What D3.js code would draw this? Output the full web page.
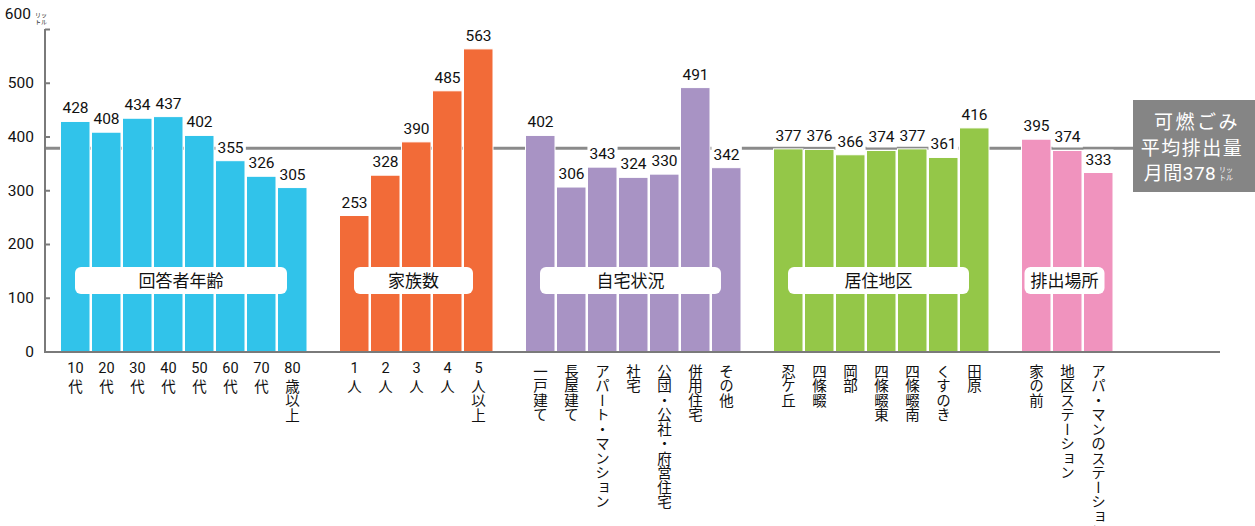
<!DOCTYPE html>
<html><head><meta charset="utf-8">
<script src="https://cdn.jsdelivr.net/npm/d3@7"></script>
<style>
html,body{margin:0;padding:0;background:#fff;}
svg{display:block;}
.num{font-family:Roboto,"Liberation Sans",Arial,sans-serif;}
.jp{font-family:"Noto Sans CJK JP","Noto Sans",sans-serif;}
</style></head>
<body>
<svg id="c" width="1255" height="526"></svg>
<script>
// ---- data ----
const groupNames = ["回答者年齢","家族数","自宅状況","居住地区","排出場所"];
const ageCats = ["10代","20代","30代","40代","50代","60代","70代","80歳以上"];
const ageVals = [428,408,434,437,402,355,326,305];
const familyCats = ["1人","2人","3人","4人","5人以上"];
const familyVals = [253,328,390,485,563];
const housingCats = ["一戸建て","長屋建て","アパート・マンション","社宅","公団・公社・府営住宅","併用住宅","その他"];
const housingVals = [402,306,343,324,330,491,342];
const areaCats = ["忍ケ丘","四條畷","岡部","四條畷東","四條畷南","くすのき","田原"];
const areaVals = [377,376,366,374,377,361,416];
const placeCats = ["家の前","地区ステーション","アパ・マンのステーション"];
const placeVals = [395,374,333];
const average = 378;
const yTicks = [0,100,200,300,400,500,600];
const groupColors = ["#31c3ea","#f26b38","#a893c4","#94c748","#f093be"];

const groupCats = [ageCats,familyCats,housingCats,areaCats,placeCats];
const groupVals = [ageVals,familyVals,housingVals,areaVals,placeVals];

// build slot list with gap slots between groups
const slots = [];
const bars = [];
groupCats.forEach((cats,g)=>{
  if(g>0) slots.push("gap"+g);
  cats.forEach((c,i)=>{
    const key=g+"_"+c;
    slots.push(key);
    bars.push({key, cat:c, value:groupVals[g][i], group:g});
  });
});

const svg = d3.select("#c");
const x = d3.scaleBand().domain(slots).range([60, 60+slots.length*31]).paddingInner(0).paddingOuter(0);
const y = d3.scaleLinear().domain([0,600]).range([351.5,29]);
const axisColor = "#7a7a7a";

// average line (behind)
svg.append("line").attr("x1",45).attr("x2",1140).attr("y1",y(average)).attr("y2",y(average))
  .attr("stroke","#8a8a8a").attr("stroke-width",3);

// bars
svg.append("g").selectAll("rect").data(bars).join("rect")
  .attr("x",d=>x(d.key)+0.5).attr("width",x.bandwidth()-1.5)
  .attr("y",d=>y(d.value)).attr("height",d=>y(0)-y(d.value))
  .attr("fill",d=>groupColors[d.group]).attr("stroke","#fff").attr("stroke-width",1);

// value labels with white bg
const vl = svg.append("g");
bars.forEach(d=>{
  const cx = x(d.key)+x.bandwidth()/2;
  const g = vl.append("g");
  const r = g.append("rect").attr("fill","#fff");
  const t = g.append("text").attr("class","num").attr("x",cx).attr("y",y(d.value)-8)
    .attr("text-anchor","middle").attr("font-size",15.5).attr("fill","#111").text(d.value);
  const bb = t.node().getBBox();
  r.attr("x",bb.x-2).attr("y",bb.y-1).attr("width",bb.width+4).attr("height",bb.height+2);
});

// axes
const yAxis = d3.axisLeft(y).tickValues(yTicks).tickSize(-5).tickPadding(11).tickFormat(d3.format("d"));
const ga = svg.append("g").attr("transform","translate(45,0)").call(yAxis);
ga.select(".domain").attr("stroke",axisColor).attr("stroke-width",2).attr("d","M0,29V352");
ga.selectAll(".tick line").attr("stroke",axisColor).attr("stroke-width",2);
ga.selectAll(".tick text").attr("class","num").attr("font-size",15.5).attr("fill","#111")
  .attr("font-family","Roboto, 'Liberation Sans', Arial, sans-serif");
ga.selectAll(".tick").filter(d=>d===600).select("text").attr("dy","-0.68em").attr("dx",-3);
// unit for 600
const unitT = svg.append("text").attr("class","jp").attr("font-size",6).attr("fill","#222").attr("text-anchor","middle");
unitT.append("tspan").attr("x",41).attr("y",16.5).text("リッ");
unitT.append("tspan").attr("x",41).attr("y",23.5).text("トル");

// baseline
svg.append("line").attr("x1",44).attr("x2",1220).attr("y1",352).attr("y2",352)
  .attr("stroke",axisColor).attr("stroke-width",2);

// group label boxes
groupCats.forEach((cats,g)=>{
  const first = x(g+"_"+cats[0]);
  const last = x(g+"_"+cats[cats.length-1])+x.bandwidth();
  const cx = (first+last)/2 - 3;
  const gg = svg.append("g");
  const r = gg.append("rect").attr("y",267).attr("height",27).attr("rx",6).attr("fill","#fff");
  const t = gg.append("text").attr("class","jp").attr("x",cx).attr("y",287).attr("text-anchor","middle")
    .attr("font-size",17).attr("fill","#111").text(groupNames[g]);
  const tw = t.node().getBBox().width;
  const w = Math.max(tw+12, (last-first)-36);
  r.attr("x",cx-w/2).attr("width",w);
});

// x labels (vertical)
const xl = svg.append("g");
bars.forEach(d=>{
  const cx = x(d.key)+x.bandwidth()/2;
  const m = d.cat.match(/^(\d+)(.*)$/);
  let rest = d.cat, top = 364;
  if(m){
    xl.append("text").attr("class","num").attr("x",cx).attr("y",373).attr("text-anchor","middle")
      .attr("font-size",14.5).attr("fill","#111").text(m[1]);
    rest = m[2]; top = 379;
  }
  xl.append("text").attr("class","jp").attr("x",cx).attr("y",top)
    .style("writing-mode","vertical-rl").attr("font-size",14.5).attr("letter-spacing",0)
    .attr("fill","#111").text(rest);
});

// average box on the right
const box = svg.append("g");
box.append("rect").attr("x",1133).attr("y",100).attr("width",122).attr("height",92).attr("fill","#858585");
const bt = box.append("g").attr("class","jp").attr("fill","#fff").attr("font-size",19).attr("text-anchor","middle");
bt.append("text").attr("x",1197).attr("y",129).attr("letter-spacing",2.5).text("可燃ごみ");
bt.append("text").attr("x",1192).attr("y",155).attr("letter-spacing",1.5).text("平均排出量");
const lastLine = bt.append("text").attr("x",1180).attr("y",180).attr("letter-spacing",0.5);
lastLine.append("tspan").text("月間");
lastLine.append("tspan").attr("class","num").text(average);
const ub = box.append("text").attr("class","jp").attr("fill","#fff").attr("font-size",7).attr("text-anchor","middle");
ub.append("tspan").attr("x",1226).attr("y",172).text("リッ");
ub.append("tspan").attr("x",1226).attr("y",180).text("トル");
</script>
</body></html>
